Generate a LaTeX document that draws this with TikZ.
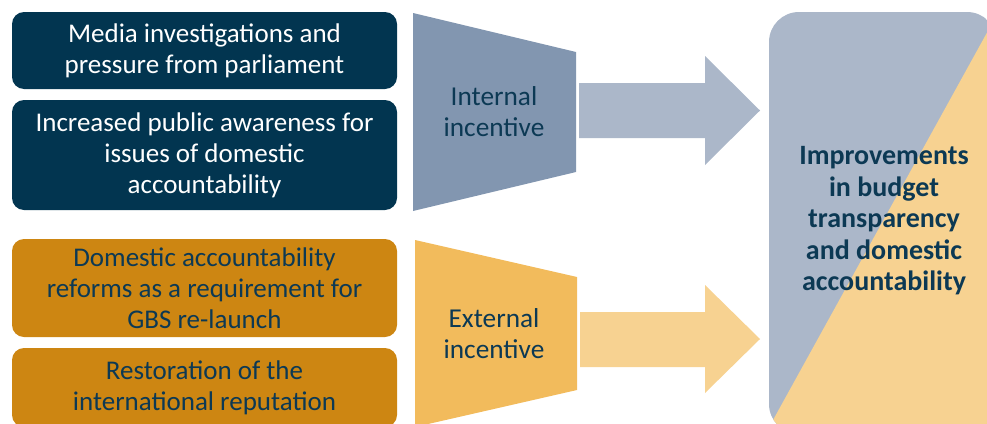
\documentclass[tikz,border=0pt]{standalone}
\usepackage{fontspec}
\setmainfont{Carlito}
\definecolor{navybox}{HTML}{023550}
\definecolor{orangebox}{HTML}{CD8612}
\definecolor{trapblue}{HTML}{8296B0}
\definecolor{arrowblue}{HTML}{ABB7C9}
\definecolor{traporange}{HTML}{F2BB5C}
\definecolor{arroworange}{HTML}{F7D291}
\definecolor{textnavy}{HTML}{0C3954}
\tikzset{
  leftbox/.style={rounded corners=12pt, minimum width=385pt, inner sep=0pt, align=center,
    font=\fontsize{27}{31}\selectfont},
  navyleft/.style={leftbox, fill=navybox, text=white},
  orangeleft/.style={leftbox, fill=orangebox, text=textnavy},
  inctext/.style={align=center, text=textnavy, font=\fontsize{27.3}{31}\selectfont},
  resulttext/.style={align=center, text=textnavy, font=\bfseries\fontsize{28}{31.5}\selectfont},
}
\begin{document}
\begin{tikzpicture}[x=1pt,y=-1pt]
\useasboundingbox (0,0) rectangle (987,423);
\clip (0,0) rectangle (987,423);
% left boxes
\node[navyleft, minimum height=77pt] (b1) at (204.5,50.5) {Media investigations and\\pressure from parliament};
\node[navyleft, minimum height=110pt] (b2) at (204.5,155) {Increased public awareness for\\issues of domestic\\accountability};
\node[orangeleft, minimum height=98pt] (b3) at (204.5,288) {Domestic accountability\\reforms as a requirement for\\GBS re-launch};
\node[orangeleft, minimum height=79pt] (b4) at (204.5,387.5) {Restoration of the\\international reputation};
% trapezoids
\fill[trapblue] (413,13) -- (576,52) -- (576,172) -- (413,211) -- cycle;
\fill[traporange] (415,240) -- (577,277) -- (577,390) -- (415,427) -- cycle;
\node[inctext] (inc1) at (494,112) {Internal\\incentive};
\node[inctext] (inc2) at (494,333.5) {External\\incentive};
% block arrows
\fill[arrowblue] (579,83) -- (705,83) -- (705,56) -- (760,110.5) -- (705,165) -- (705,138) -- (579,138) -- cycle;
\fill[arroworange] (580,312) -- (705,312) -- (705,285) -- (760,339) -- (705,393) -- (705,367) -- (580,367) -- cycle;
% result box
\begin{scope}
\clip[rounded corners=30pt] (769,12) rectangle (997,434);
\fill[arrowblue] (760,0) rectangle (1000,440);
\fill[arroworange] (762,440) -- (1005,0) -- (1100,0) -- (1100,440) -- cycle;
\end{scope}
\node[resulttext] (res) at (884,221) {Improvements\\in budget\\transparency\\and domestic\\accountability};
\end{tikzpicture}
\end{document}
